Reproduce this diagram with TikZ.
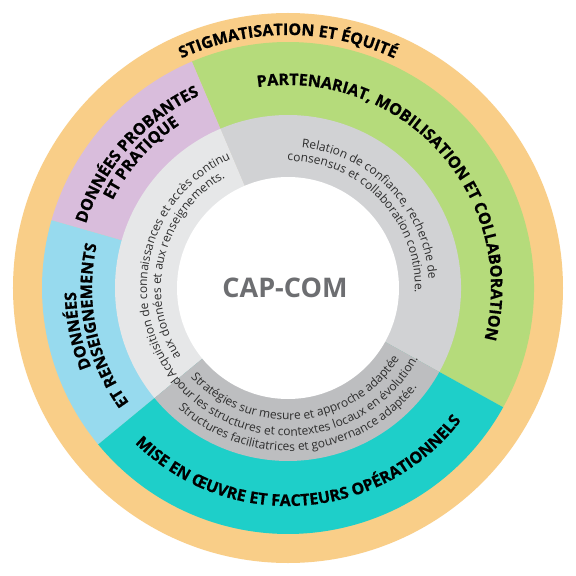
\documentclass[tikz,border=0pt]{standalone}
\usepackage{fontspec}
\setmainfont{Open Sans}
\newfontfamily\heavyfont[BoldFeatures={FakeBold=0.8}]{Open Sans}
\usetikzlibrary{decorations.text}

\definecolor{ringorange}{HTML}{F9CE88}
\definecolor{ringgreen}{HTML}{B5DB7B}
\definecolor{ringpurple}{HTML}{D9BDDC}
\definecolor{ringblue}{HTML}{97DAEE}
\definecolor{ringteal}{HTML}{1ECFC9}
\definecolor{graytop}{HTML}{D1D2D4}
\definecolor{grayleft}{HTML}{E6E7E8}
\definecolor{graybottom}{HTML}{BDBEC0}
\definecolor{capgray}{HTML}{6D6E71}
\definecolor{notegray}{HTML}{2E2E2E}

\newcommand{\labelfont}{\heavyfont\bfseries\fontsize{16pt}{17pt}\selectfont}
\newcommand{\notefont}{\fontsize{12pt}{13pt}\selectfont\color{notegray}}

\begin{document}
\begin{tikzpicture}[x=1pt, y=1pt,
    bold label/.style={decorate, decoration={text along path, text align=center, text={|\labelfont|#1}}},
    note label/.style={decorate, decoration={text along path, text align=center, text={|\notefont|#1}}}]
    \useasboundingbox[fill=white] (-288,-288) rectangle (288,288);
    % rings
    \fill[ringorange] (0,0) circle[radius=275pt];
    \foreach \col/\from/\to in {ringgreen/-29/113, ringpurple/113/164, ringblue/164/219.5, ringteal/219.5/331}
        \fill[\col] (0,0) -- (\from:246pt) arc[start angle=\from, end angle=\to, radius=246pt] -- cycle;
    \foreach \col/\from/\to in {graytop/-29/113, grayleft/113/219.5, graybottom/219.5/331}
        \fill[\col] (0,0) -- (\from:173pt) arc[start angle=\from, end angle=\to, radius=173pt] -- cycle;
    \fill[white] (0,0) circle[radius=111pt];
    \node[font=\bfseries\fontsize{27pt}{30pt}\selectfont, text=capgray] (capcom) at (-3,0) {CAP-COM};
    % outer labels
    \path[bold label={STIGMATISATION ET ÉQUITÉ}] (150:253pt) arc[start angle=150, end angle=30, radius=253pt];
    \path[bold label={PARTENARIAT, MOBILISATION ET COLLABORATION}] (122:203pt) arc[start angle=122, end angle=-38, radius=203pt];
    \path[bold label={DONNÉES PROBANTES}] (218.5:212pt) arc[start angle=218.5, end angle=58.5, radius=212pt];
    \path[bold label={ET PRATIQUE}] (218.5:196pt) arc[start angle=218.5, end angle=58.5, radius=196pt];
    \path[bold label={DONNÉES}] (271.5:212pt) arc[start angle=271.5, end angle=111.5, radius=212pt];
    \path[bold label={ET RENSEIGNEMENTS}] (271.5:196pt) arc[start angle=271.5, end angle=111.5, radius=196pt];
    \path[bold label={MISE EN ŒUVRE ET FACTEURS OPÉRATIONNELS}] (184:218pt) arc[start angle=184, end angle=364, radius=218pt];
    % inner notes
    \path[note label={Relation de confiance, recherche de}] (134:141pt) arc[start angle=134, end angle=-46, radius=141pt];
    \path[note label={consensus et collaboration continue.}] (134:127pt) arc[start angle=134, end angle=-46, radius=127pt];
    \path[note label={Acquisition de connaissances et accès continu}] (256:141pt) arc[start angle=256, end angle=76, radius=141pt];
    \path[note label={aux données et aux renseignements.}] (256:127pt) arc[start angle=256, end angle=76, radius=127pt];
    \path[note label={Stratégies sur mesure et approche adaptée}] (185:132pt) arc[start angle=185, end angle=365, radius=132pt];
    \path[note label={pour les structures et contextes locaux en évolution.}] (185:148pt) arc[start angle=185, end angle=365, radius=148pt];
    \path[note label={Structures facilitatrices et gouvernance adaptée.}] (185:163pt) arc[start angle=185, end angle=365, radius=163pt];
\end{tikzpicture}
\end{document}
